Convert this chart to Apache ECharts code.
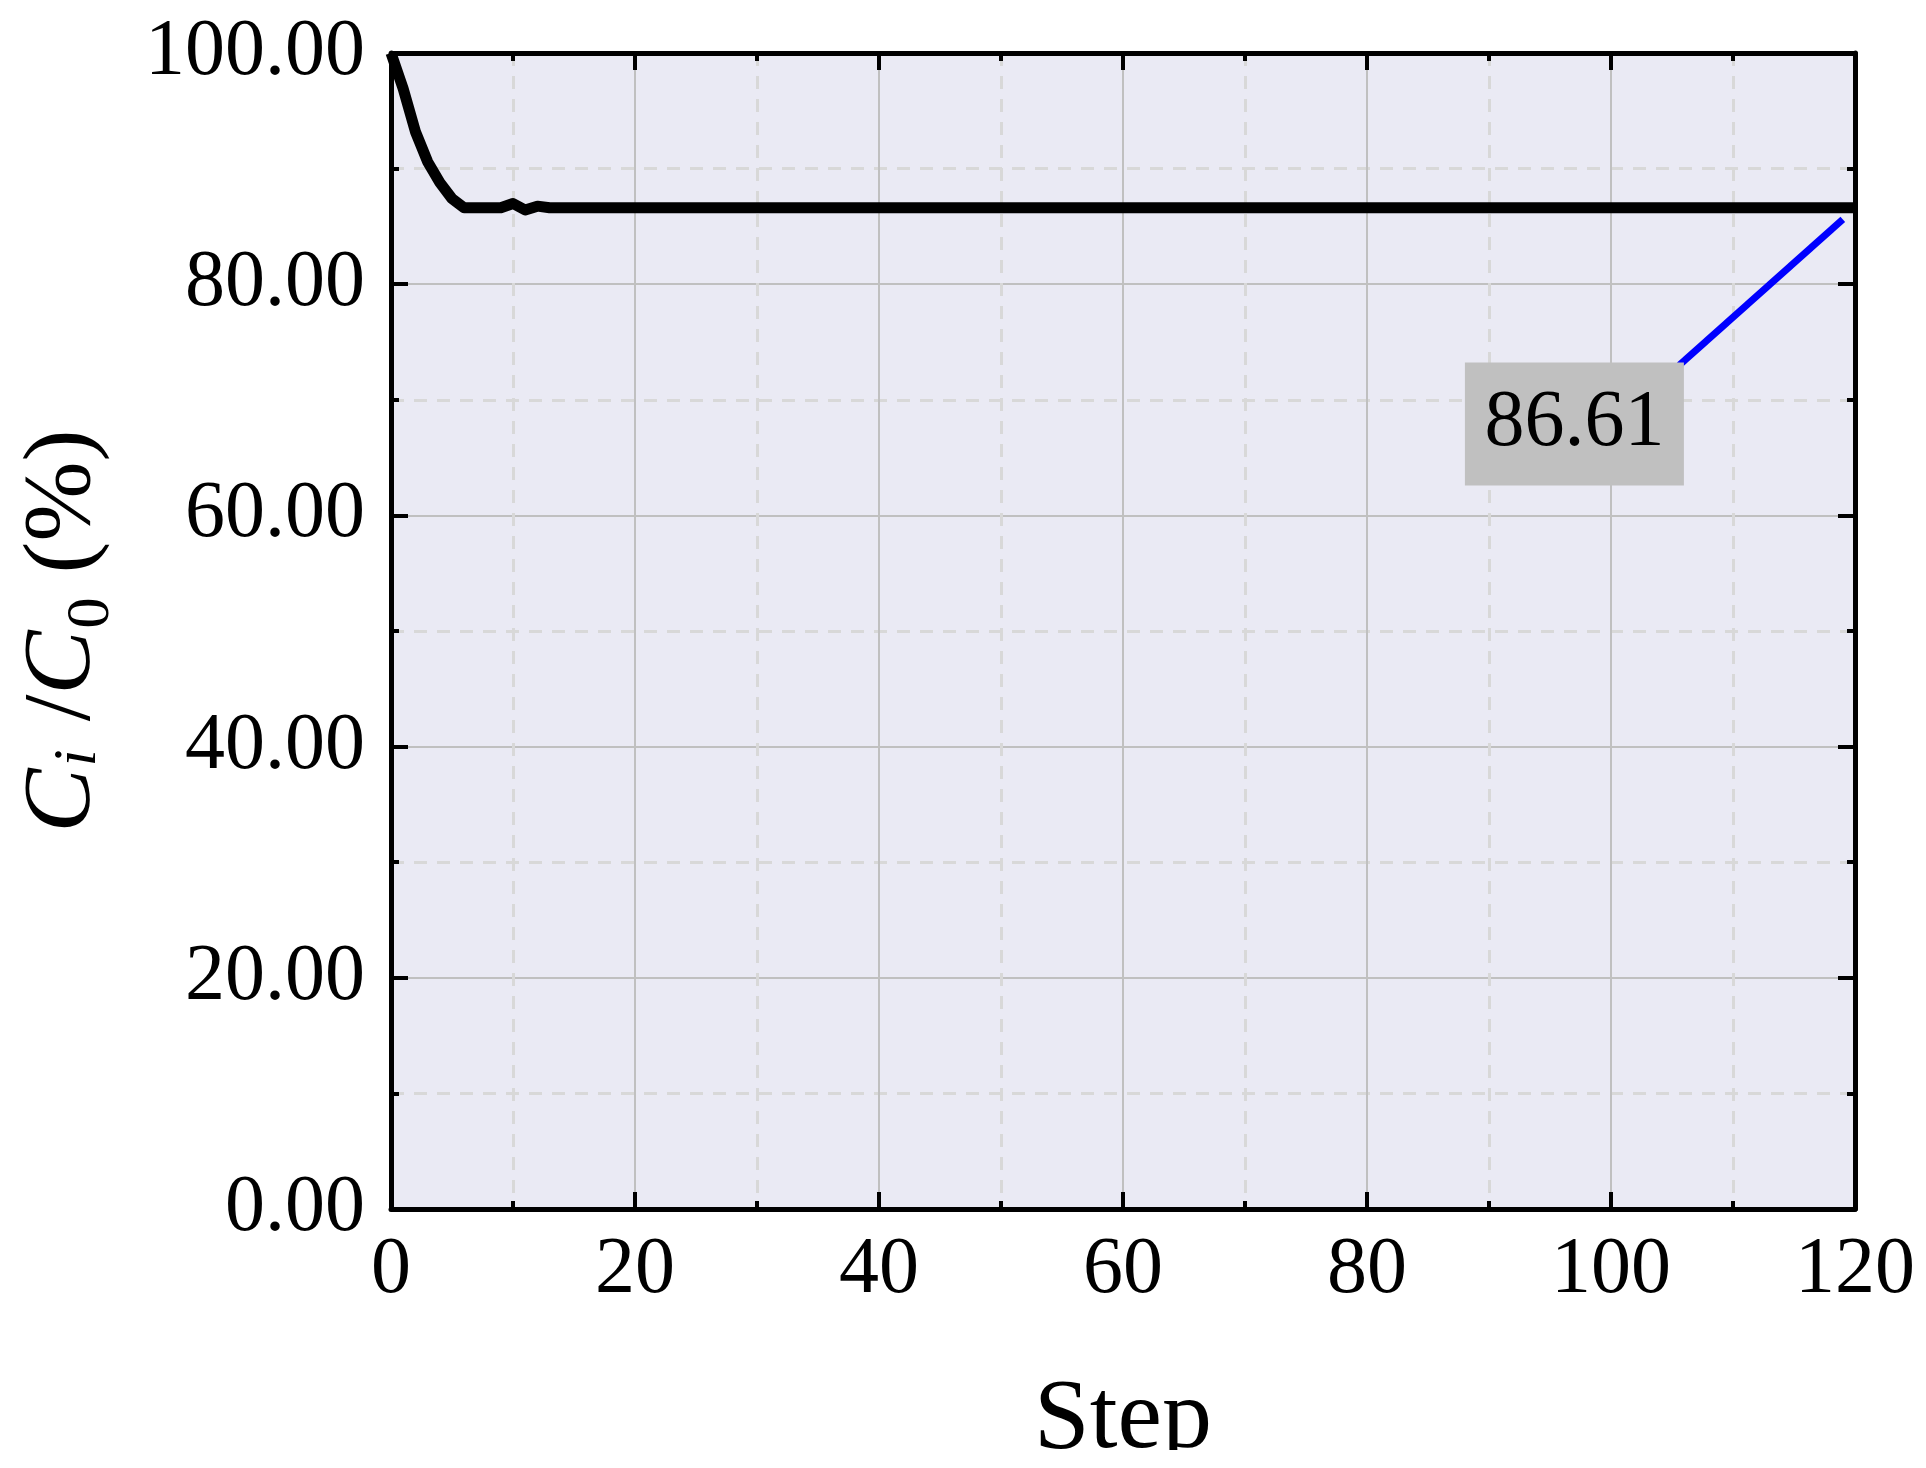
<!DOCTYPE html>
<html>
<head>
    <meta charset="utf-8">
    <title>ECharts</title>
    <script src="https://cdn.jsdelivr.net/npm/echarts@6/dist/echarts.min.js"></script>
    <style>
        body { margin: 0; background: #fff; }
    </style>
</head>
<body>
<!-- the reference is cut just under the x name, so the chart stops at 1450 -->
<div id="main" style="width: 1926px;height:1450px;"></div>
<script type="text/javascript">
    // Step values; after step 13 the curve stays flat
    var steps = [0, 1, 2, 3, 4, 5, 6, 7, 8, 9, 10, 11, 12, 13, 120];
    var ratio = [100, 96.9, 93.2, 90.6, 88.8, 87.4, 86.61, 86.61, 86.61, 86.61, 86.98, 86.42, 86.75, 86.61, 86.61];

    var xTicks = [0, 20, 40, 60, 80, 100, 120];
    var yTicks = [0, 20, 40, 60, 80, 100];

    // callout: pointer end near the last point, box text
    var calloutFrom = [119, 85.6];
    var calloutTo = [105.6, 73.0];
    var calloutBox = [97, 67.9];
    var calloutText = '86.61';

    var serif = 'Liberation Serif';

    var lineData = [];
    for (var i = 0; i < steps.length; i++) {
        lineData.push([steps[i], ratio[i]]);
    }

    var myChart = echarts.init(document.getElementById('main'));

    var tickStyle = {show: true, inside: true, length: 17, lineStyle: {color: '#000', width: 4}};
    var minorStyle = {show: true, splitNumber: 2, length: 8, lineStyle: {color: '#000', width: 4}};
    var lineAxis = {show: true, onZero: false, lineStyle: {color: '#000', width: 5}};

    option = {
        animation: false,
        grid: {
            left: 391, right: 71, top: 53, bottom: 241,
            containLabel: false,
            outerBoundsMode: 'none',  // v6 would otherwise shrink the grid to fit the name
            show: true, backgroundColor: '#eaeaf4', borderWidth: 0
        },
        xAxis: [
            {
                type: 'value',
                min: xTicks[0], max: xTicks[xTicks.length - 1], interval: 20,
                position: 'bottom',
                name: 'Step',
                nameLocation: 'middle',
                nameGap: 162,
                nameTextStyle: {fontFamily: serif, fontSize: 100, color: '#000'},
                axisLine: lineAxis,
                axisTick: tickStyle,
                minorTick: minorStyle,
                axisLabel: {fontFamily: serif, fontSize: 80, color: '#000', margin: 22},
                splitLine: {show: true, lineStyle: {color: '#c0c0c0', width: 2}},
                minorSplitLine: {show: true, lineStyle: {color: '#d8d8d8', width: 3, type: [13, 10]}}
            },
            {
                type: 'value',
                min: xTicks[0], max: xTicks[xTicks.length - 1], interval: 20,
                position: 'top',
                axisLine: lineAxis,
                axisTick: tickStyle,
                minorTick: minorStyle,
                axisLabel: {show: false},
                splitLine: {show: false}
            }
        ],
        yAxis: [
            {
                type: 'value',
                min: yTicks[0], max: yTicks[yTicks.length - 1], interval: 20,
                position: 'left',
                name: '{it|C}{subi|i}{n| /}{it|C}{sub|0}{n| (%)}',
                nameLocation: 'middle',
                nameGap: 268,
                nameTextStyle: {
                    fontFamily: serif, fontSize: 96, color: '#000',
                    rich: {
                        it: {fontFamily: serif, fontStyle: 'italic', fontSize: 96, color: '#000'},
                        n: {fontFamily: serif, fontSize: 96, color: '#000'},
                        subi: {fontFamily: serif, fontStyle: 'italic', fontSize: 62, color: '#000', padding: [30, 4, 0, 2]},
                        sub: {fontFamily: serif, fontSize: 62, color: '#000', padding: [56, 0, 0, 2]}
                    }
                },
                axisLine: lineAxis,
                axisTick: tickStyle,
                minorTick: minorStyle,
                axisLabel: {
                    fontFamily: serif, fontSize: 80, color: '#000', margin: 26,
                    formatter: function (v) { return v.toFixed(2); }
                },
                splitLine: {show: true, lineStyle: {color: '#c0c0c0', width: 2}},
                minorSplitLine: {show: true, lineStyle: {color: '#d8d8d8', width: 3, type: [13, 10]}}
            },
            {
                type: 'value',
                min: yTicks[0], max: yTicks[yTicks.length - 1], interval: 20,
                position: 'right',
                axisLine: lineAxis,
                axisTick: tickStyle,
                minorTick: minorStyle,
                axisLabel: {show: false},
                splitLine: {show: false}
            }
        ],
        series: [
            {
                name: 'ratio',
                type: 'line',
                data: lineData,
                symbol: 'none',
                clip: false,
                lineStyle: {color: '#000', width: 11, join: 'round'},
                markLine: {
                    silent: true,
                    symbol: 'none',
                    label: {show: false},
                    lineStyle: {color: '#0000ff', width: 7, type: 'solid'},
                    data: [[{coord: calloutFrom}, {coord: calloutTo}]]
                },
                markPoint: {
                    silent: true,
                    symbol: 'rect',
                    symbolSize: [219, 123],
                    itemStyle: {color: '#c0c0c0'},
                    label: {
                        show: true, position: 'inside',
                        fontFamily: serif, fontSize: 80, color: '#000',
                        formatter: calloutText
                    },
                    data: [{coord: calloutBox}]
                }
            }
        ]
    };

    myChart.setOption(option);
</script>
</body>
</html>
